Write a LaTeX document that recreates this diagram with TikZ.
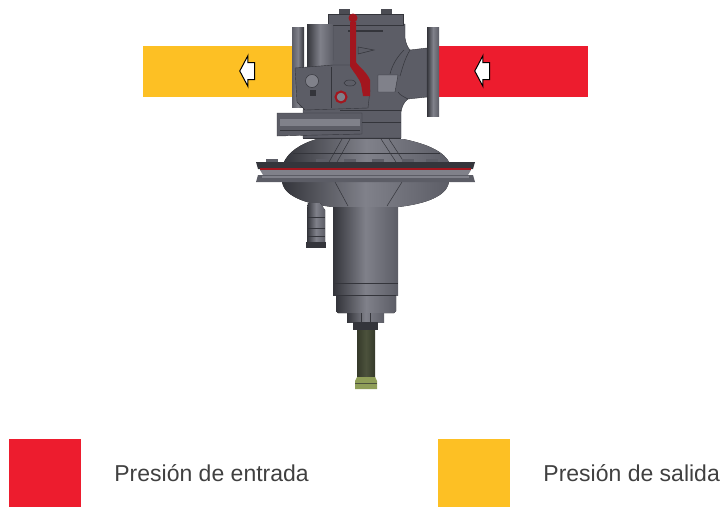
\documentclass[tikz,border=0pt]{standalone}
\usepackage{fontspec}
\setmainfont{Liberation Sans}
\usepackage{xcolor}
\usetikzlibrary{shapes,shapes.arrows,positioning,calc}
\definecolor{inred}{HTML}{ED1C2E}
\definecolor{outyellow}{HTML}{FDC024}
\definecolor{bodygray}{HTML}{5C5D66}
\definecolor{darkgray}{HTML}{34353B}
\definecolor{lightgray}{HTML}{80818A}
\definecolor{wine}{HTML}{A3161E}
\definecolor{rodgreen}{HTML}{4C523C}
\definecolor{nutgreen}{HTML}{8F9E58}

\begin{document}
\begin{tikzpicture}[
    x=1pt, y=-1pt,
    pressbar/.style={rectangle, minimum width=149pt, minimum height=51pt, inner sep=0pt},
    keybox/.style={rectangle, minimum width=72pt, minimum height=68pt, inner sep=0pt},
    keytext/.style={font=\fontsize{23}{26}\selectfont, text=black!75, inner sep=0pt},
    flowarrow/.style={single arrow, draw=black, fill=white, line width=1pt, shape border rotate=180,
        minimum height=15pt, text height=16pt, text depth=0pt, single arrow head extend=7pt, inner sep=0pt,
        single arrow tip angle=124},
    metal/.style={left color=darkgray, right color=bodygray, middle color=lightgray, draw=none},
    part/.style={fill=bodygray, draw=darkgray, line width=0.4pt},
    seam/.style={draw=darkgray, line width=0.5pt}
]
    \useasboundingbox (0,0) rectangle (722,507);

    \node[pressbar, fill=outyellow] (outbar) at (217.5, 71.5) {};
    \node[pressbar, fill=inred] (inbar) at (513.5, 71.5) {};
    \node[flowarrow] (outarrow) at (249.5, 71) {};
    \node[flowarrow] (inarrow) at (484.5, 71) {};

    % upper body
    \fill[part] (333,24) -- (405,24) -- (405,38) .. controls (406,44) and (408,48) .. (410,50) -- (427,48)
        -- (427,97) -- (408,99) .. controls (404,102) and (402,106) .. (401,112) -- (401,138) -- (303,138) -- (303,110) -- (333,60) -- cycle;
    \fill[part] (328,14) rectangle (403,25);
    \foreach \xb in {339,381} { \fill[darkgray!70!lightgray] (\xb,9) rectangle ++(11,5); }
    \fill[left color=bodygray, right color=darkgray, middle color=lightgray] (292,27) rectangle (304,107);
    \fill[left color=darkgray, right color=bodygray, middle color=lightgray] (427,27) rectangle (439,116);
    \fill[metal] (307,24) rectangle (333,67);
    \fill[part] (295,68) -- (333,65) -- (355,65) -- (370,90) -- (368,108) -- (305,110) -- (297,102) -- cycle;
    \draw[seam] (331,67) -- (331,108);
    \draw[seam] (404,50) .. controls (396,58) and (392,66) .. (390,74);
    \draw[seam] (410,50) .. controls (404,60) and (402,70) .. (400,76);
    \draw[seam] (398,92) .. controls (400,95) and (404,97) .. (408,99);
    \fill[lightgray, draw=darkgray, line width=0.4pt] (378,75) -- (398,75) -- (395,92) -- (378,92) -- cycle;
    \draw[seam, line width=1.2pt] (348,31) -- (383,31);
    \draw[seam] (358,47) -- (374,50) -- (358,54) -- cycle;

    % small block on the left
    \fill[part] (277,113) -- (362,113) -- (362,134) -- (277,136) -- cycle;
    \fill[lightgray] (280,119) rectangle (360,126);
    \draw[seam] (280,130) -- (360,130);
    \draw[seam] (303,138) -- (401,138);
    \draw[seam] (340,110) -- (401,110) (362,122) -- (401,122);

    % domes of the diaphragm
    \fill[metal] (317,139) -- (403,139) .. controls (428,144) and (445,152) .. (450,164) -- (283,164) .. controls (288,152) and (300,144) .. (317,139) -- cycle;
    \fill[metal] (282,180) -- (449,180) .. controls (449,196) and (425,204) .. (398,207) -- (333,207) .. controls (306,204) and (282,196) .. (282,180) -- cycle;
    \foreach \xa/\xc in {342/329,350/337,381/396,389/404} { \draw[seam] (\xa,139) -- (\xc,162); }
    \foreach \xa/\xc in {335/348,402/387} { \draw[seam] (\xa,182) -- (\xc,206); }
    \draw[seam] (293,153) -- (440,153);

    % flange with the red seal
    \fill[darkgray] (256,162) -- (475,162) -- (473,169) -- (258,169) -- cycle;
    \foreach \xb in {272,322,350,378,408,432} { \fill[bodygray] (\xb-6,159) rectangle ++(12,3); }
    \fill[wine] (260,168) rectangle (471,170);
    \fill[lightgray] (260,170) -- (471,170) -- (468,175) -- (263,175) -- cycle;
    \fill[bodygray] (258,175) -- (473,175) -- (475,182) -- (256,182) -- cycle;
    \fill[lightgray] (262,176) rectangle (469,178);

    % spring case
    \fill[metal] (333,207) rectangle (398,283);
    \fill[metal] (333,284) rectangle (398,295);
    \fill[metal] (336,295) -- (396,295) -- (396,311) -- (394,313) -- (338,313) -- (336,311) -- cycle;
    \fill[metal] (347,313) rectangle (384,322);
    \fill[darkgray] (353,322) rectangle (378,330);
    \draw[seam] (333,283.5) -- (398,283.5);
    \draw[seam] (336,295) -- (396,295);
    \draw[seam] (361,313) -- (361,322) (370,313) -- (370,322);

    % rod and nut
    \fill[left color=rodgreen!70!black, right color=rodgreen!70!black, middle color=rodgreen] (357,330) rectangle (375,377);
    \fill[nutgreen] (357,377) -- (375,377) -- (377,381) -- (377,389) -- (355,389) -- (355,381) -- cycle;
    \draw[rodgreen, line width=0.5pt] (355,383) -- (377,383);

    % plug under the diaphragm
    \fill[metal] (308,203) -- (320,203) -- (325,210) -- (325,242) -- (307,242) -- (307,210) -- cycle;
    \fill[darkgray] (306,242) rectangle (326,248);
    \draw[seam] (307,217) -- (325,217) (307,228) -- (325,228) (307,236) -- (325,236);

    % red passage
    \fill[wine] (353,18) circle (4.5);
    \fill[wine] (350,22) -- (356,22) -- (356,62) .. controls (358,66) and (367,72) .. (370,80) -- (370,96) -- (363,96)
        -- (361,84) .. controls (359,78) and (352,70) .. (350,66) -- cycle;
    \fill[lightgray] (341,97) circle (4.5);
    \draw[wine, line width=2pt] (341,97) circle (5.5);
    \draw[seam, fill=lightgray] (312,81) circle (6.5);
    \fill[darkgray] (310,90) rectangle (316,96);
    \draw[seam] (350,83) ellipse (6 and 3);

    \node[keybox, fill=inred] (inkey) at (45, 473) {};
    \node[keybox, fill=outyellow] (outkey) at (474, 473) {};
    \node[keytext, right=33pt of inkey] (intext) {Presión de entrada};
    \node[keytext, right=33pt of outkey] (outtext) {Presión de salida};
\end{tikzpicture}
\end{document}
